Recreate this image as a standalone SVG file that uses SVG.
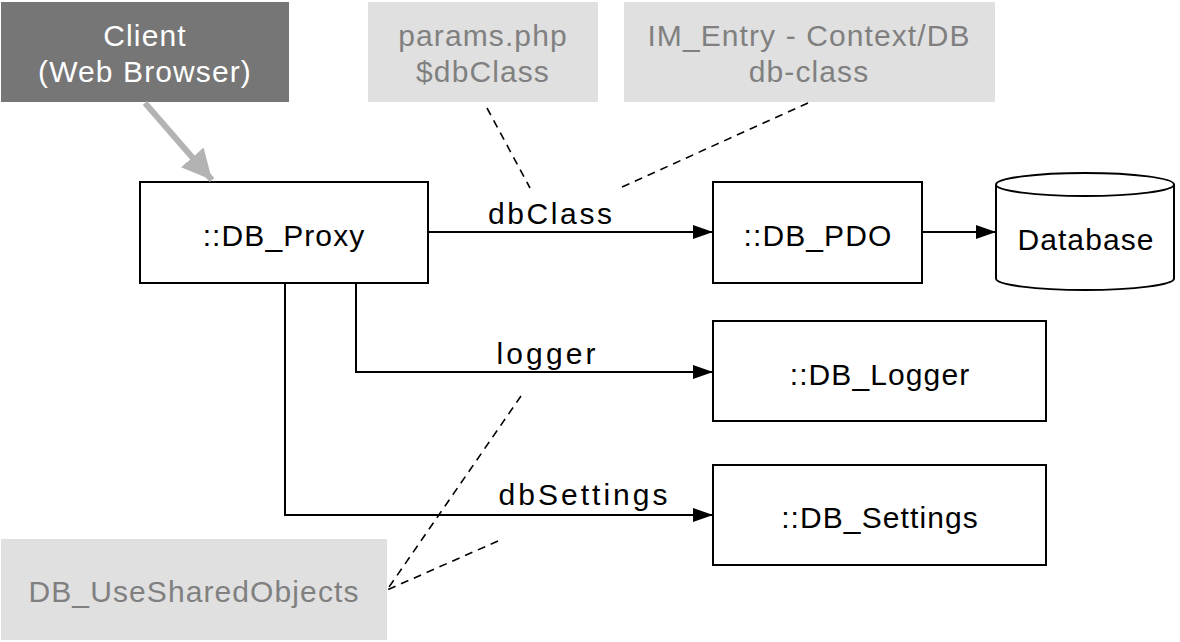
<svg xmlns="http://www.w3.org/2000/svg" width="1180" height="642" viewBox="0 0 1180 642">
<defs>
<style>
.box{fill:#ffffff;stroke:#000000;stroke-width:2}
.note{fill:#e0e0e0;stroke:none}
.t{font-family:"Liberation Sans",Arial,Helvetica,sans-serif;font-size:30px;letter-spacing:1.1px;text-anchor:middle;fill:#000}
.nt{fill:#808080}
.ct{fill:#ffffff}
.lbl{font-family:"Liberation Sans",Arial,Helvetica,sans-serif;font-size:30px;text-anchor:middle;fill:#000}
.edge{fill:none;stroke:#000;stroke-width:2}
.dash{fill:none;stroke:#000;stroke-width:1.6;stroke-dasharray:8 6}
</style>
<marker id="arr" viewBox="0 0 20 14" refX="20" refY="7" markerWidth="20" markerHeight="14" markerUnits="userSpaceOnUse" orient="auto">
<path d="M0,0 L20,7 L0,14 Z" fill="#000"/>
</marker>
<marker id="garr" viewBox="0 0 30 30" refX="30" refY="15" markerWidth="30" markerHeight="30" markerUnits="userSpaceOnUse" orient="auto">
<path d="M0,0 L30,15 L0,30 Z" fill="#b3b3b3"/>
</marker>
</defs>

<g id="client">
<rect x="1" y="2" width="288" height="100" fill="#767676"/>
<text class="t ct" x="145" y="46">Client</text>
<text class="t ct" x="145" y="82">(Web Browser)</text>
</g>
<g id="params">
<rect class="note" x="368" y="2" width="230" height="100"/>
<text class="t nt" x="483" y="46">params.php</text>
<text class="t nt" x="483" y="82">$dbClass</text>
</g>
<g id="imentry">
<rect class="note" x="624" y="2" width="371" height="100"/>
<text class="t nt" x="809" y="46">IM_Entry - Context/DB</text>
<text class="t nt" x="809" y="82">db-class</text>
</g>
<g id="dbproxy">
<rect class="box" x="140" y="182" width="288" height="101"/>
<text class="t" x="284" y="246">::DB_Proxy</text>
</g>
<g id="dbpdo">
<rect class="box" x="713" y="182" width="209" height="101"/>
<text class="t" x="818" y="246">::DB_PDO</text>
</g>
<g id="database">
<path d="M996,184.5 L996,278.5 A89,11.5 0 0 0 1174,278.5 L1174,184.5" fill="#fff" stroke="#000" stroke-width="2"/>
<ellipse cx="1085" cy="184.5" rx="89" ry="11.5" fill="#fff" stroke="#000" stroke-width="2"/>
<text class="t" x="1086" y="250">Database</text>
</g>
<g id="dblogger">
<rect class="box" x="713" y="321" width="333" height="100"/>
<text class="t" x="880" y="385">::DB_Logger</text>
</g>
<g id="dbsettings">
<rect class="box" x="713" y="465" width="333" height="100"/>
<text class="t" x="880" y="528">::DB_Settings</text>
</g>
<g id="shared">
<rect class="note" x="1" y="539" width="386" height="101"/>
<text class="t nt" x="194" y="602">DB_UseSharedObjects</text>
</g>

<g id="connectors">
<line x1="145" y1="103" x2="212" y2="180" stroke="#b3b3b3" stroke-width="6" marker-end="url(#garr)"/>
<line class="edge" x1="428" y1="232" x2="713" y2="232" marker-end="url(#arr)"/>
<line class="edge" x1="922" y1="232" x2="996" y2="232" marker-end="url(#arr)"/>
<polyline class="edge" points="356,283 356,372 713,372" marker-end="url(#arr)"/>
<polyline class="edge" points="285,283 285,515 713,515" marker-end="url(#arr)"/>
<line class="dash" x1="487" y1="108" x2="530" y2="188"/>
<line class="dash" x1="808" y1="103" x2="622" y2="187"/>
<line class="dash" x1="521" y1="396" x2="387" y2="590"/>
<line class="dash" x1="498" y1="541" x2="387" y2="590"/>
<text class="lbl" x="550" y="224" textLength="124" lengthAdjust="spacing">dbClass</text>
<text class="lbl" x="546" y="364" textLength="99" lengthAdjust="spacing">logger</text>
<text class="lbl" x="583" y="505" textLength="169" lengthAdjust="spacing">dbSettings</text>
</g>
</svg>
